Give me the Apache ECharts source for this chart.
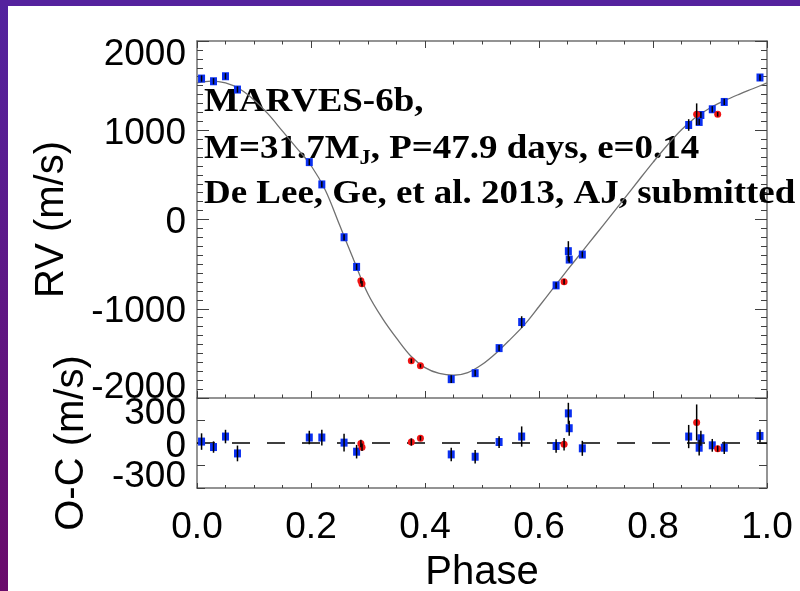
<!DOCTYPE html>
<html>
<head>
<meta charset="utf-8">
<script src="https://cdn.jsdelivr.net/npm/echarts@6/dist/echarts.min.js"></script>
<style>
  html, body { margin: 0; padding: 0; background: #ffffff; }
  #chart { width: 800px; height: 591px; }
</style>
</head>
<body>
<div id="chart"></div>
<script>
// ---- Radial velocity data, folded on the orbital period ----
// Blue squares
const bluePhase = [0.008, 0.029, 0.050, 0.071, 0.197, 0.219, 0.258, 0.280, 0.446, 0.488, 0.530, 0.5696, 0.630, 0.6515, 0.653, 0.676, 0.8626, 0.881, 0.884, 0.904, 0.925, 0.9877];
const blueRV    = [1579, 1549, 1605, 1456, 643, 393, -199, -531, -1789, -1722, -1441, -1149, -738, -355, -449, -393, 1059, 1093, 1171, 1235, 1317, 1591];
const blueRVErr = [35, 35, 35, 35, 35, 35, 35, 35, 43, 35, 35, 65, 35, 112, 35, 35, 65, 35, 35, 35, 35, 35];
const blueOC    = [19, -54, 86, -139, 73, 73, 5, -116, -152, -183, 13, 86, -40, 395, 197, -71, 86, -63, 63, -31, -63, 94];
const blueOCErr = [110, 76, 90, 105, 90, 105, 119, 90, 90, 90, 78, 135, 90, 141, 100, 100, 155, 105, 100, 85, 83, 85];

// Red circles
const redPhase = [0.2875, 0.2895, 0.376, 0.392, 0.644, 0.8766, 0.9135];
const redRV    = [-686, -720, -1584, -1640, -697, 1179, 1179];
const redRVErr = [30, 30, 25, 20, 30, 122, 25];
const redOC    = [-5, -55, 13, 63, -17, 274, -76];
const redOCErr = [50, 50, 49, 30, 83, 240, 40];

// Orbit fit curve
const modelPhase = [0.000, 0.025, 0.050, 0.075, 0.100, 0.125, 0.150, 0.175, 0.200, 0.225,
                    0.250, 0.275, 0.300, 0.325, 0.350, 0.375, 0.400, 0.425, 0.450, 0.475,
                    0.500, 0.525, 0.550, 0.575, 0.600, 0.625, 0.650, 0.675, 0.700, 0.725,
                    0.750, 0.775, 0.800, 0.825, 0.850, 0.875, 0.900, 0.925, 0.950, 0.975, 1.000];
const modelRV    = [1530, 1550, 1530, 1462, 1340, 1180, 990, 800, 605, 330,
                    -60, -455, -835, -1105, -1330, -1530, -1660, -1725, -1745, -1715,
                    -1625, -1495, -1340, -1175, -975, -770, -565, -365, -165, 35,
                    237, 440, 640, 832, 1005, 1145, 1250, 1330, 1400, 1465, 1530];

// Zero reference for the residual panel
const zeroPhase = [0, 1];
const zeroOC = [0, 0];

// Tick labels
const phaseTicks = [0.0, 0.2, 0.4, 0.6, 0.8, 1.0];
const rvTicks = [-2000, -1000, 0, 1000, 2000];
const ocTicks = [-300, 0, 300];

// Annotation lines
const titleLine = 'MARVES-6b,';
const paramLead = 'M=31.7M';
const paramSub = 'J';
const paramTail = ', P=47.9 days, e=0.14';
const refLine = 'De Lee, Ge, et al. 2013, AJ, submitted';

const SANS = '"Liberation Sans", Arial, sans-serif';
const SERIF_BOLD = 'bold 33px "Liberation Serif", "Times New Roman", serif';
const AXIS_GRAY = '#707070';
const TICK_GRAY = '#404040';
const BLUE = '#0a2ff0';
const RED = '#f01414';

const chart = echarts.init(document.getElementById('chart'), null, { renderer: 'canvas' });

const labelFont = { fontFamily: SANS, fontSize: 37, color: '#000' };

function frameAxis(extra) {
  return Object.assign({
    type: 'value',
    axisLine: { show: true, onZero: false, lineStyle: { color: AXIS_GRAY, width: 1.5 } },
    splitLine: { show: false },
    nameMoveOverlap: false
  }, extra);
}

function phaseAxis(gridIndex, position, showLabels, tickLen, minorLen) {
  return frameAxis({
    gridIndex, position,
    min: 0, max: 1, interval: 0.2,
    axisTick: { show: true, inside: true, length: tickLen, lineStyle: { color: TICK_GRAY, width: 1 } },
    minorTick: { show: true, splitNumber: 4, length: minorLen, lineStyle: { color: TICK_GRAY, width: 1 } },
    axisLabel: showLabels ? Object.assign({
      show: true, margin: 21,
      formatter: v => phaseTicks.some(t => Math.abs(t - v) < 1e-6) ? v.toFixed(1) : ''
    }, labelFont) : { show: false }
  });
}

// Padding nudges the end labels inward, away from the panel corners
const rvLabelRich = {
  n:  Object.assign({ padding: [7, 0, 0, 0] }, labelFont),
  dn: Object.assign({ padding: [27, 0, 0, 0] }, labelFont),
  up: Object.assign({ padding: [7, 0, 28, 0] }, labelFont)
};
const ocLabelRich = {
  n:  Object.assign({ padding: [7, 0, 0, 0] }, labelFont),
  dn: Object.assign({ padding: [23, 0, 0, 0] }, labelFont),
  up: Object.assign({ padding: [7, 0, 20, 0] }, labelFont)
};

function errorBars(xIdx, yIdx, phases, vals, errs) {
  return {
    type: 'custom', xAxisIndex: xIdx, yAxisIndex: yIdx, z: 6,
    silent: true, animation: false,
    data: phases.map((p, i) => [p, vals[i] - errs[i], vals[i] + errs[i]]),
    encode: { x: 0, y: [1, 2] },
    renderItem: (params, api) => {
      const lo = api.coord([api.value(0), api.value(1)]);
      const hi = api.coord([api.value(0), api.value(2)]);
      return {
        type: 'line',
        shape: { x1: lo[0], y1: lo[1], x2: hi[0], y2: hi[1] },
        style: { stroke: '#000', lineWidth: 1.5 }
      };
    }
  };
}

function markers(xIdx, yIdx, phases, vals, symbol, size, color) {
  return {
    type: 'scatter', xAxisIndex: xIdx, yAxisIndex: yIdx, z: 5,
    symbol, symbolSize: size, silent: true, animation: false,
    itemStyle: { color, opacity: 1 },
    data: phases.map((p, i) => [p, vals[i]])
  };
}

const option = {
  backgroundColor: '#ffffff',
  animation: false,
  grid: [
    { left: 197, top: 41, width: 570, height: 357, containLabel: false, outerBoundsMode: 'none' },
    { left: 197, top: 398, width: 570, height: 90, containLabel: false, outerBoundsMode: 'none' }
  ],
  xAxis: [
    phaseAxis(0, 'bottom', false, 7, 3.5),
    phaseAxis(0, 'top', false, 7, 3.5),
    Object.assign(phaseAxis(1, 'bottom', true, 5, 3), {
      name: 'Phase', nameLocation: 'middle', nameGap: 65,
      nameTextStyle: { fontFamily: SANS, fontSize: 40, color: '#000' }
    })
  ],
  yAxis: [
    frameAxis({
      gridIndex: 0, position: 'left', min: -2000, max: 2000, interval: 1000,
      name: 'RV (m/s)', nameLocation: 'middle', nameGap: 125,
      nameTextStyle: { fontFamily: SANS, fontSize: 40, color: '#000' },
      axisTick: { show: true, inside: true, length: 12, lineStyle: { color: TICK_GRAY, width: 1 } },
      minorTick: { show: true, splitNumber: 10, length: 6, lineStyle: { color: TICK_GRAY, width: 1 } },
      axisLabel: Object.assign({
        show: true, margin: 11, showMinLabel: true, showMaxLabel: true,
        formatter: v => {
          if (!rvTicks.includes(v)) return '';
          if (v === rvTicks[rvTicks.length - 1]) return '{dn|' + v + '}';
          if (v === rvTicks[0]) return '{up|' + v + '}';
          return '{n|' + v + '}';
        },
        rich: rvLabelRich
      }, labelFont)
    }),
    frameAxis({
      gridIndex: 0, position: 'right', min: -2000, max: 2000, interval: 1000,
      axisTick: { show: true, inside: true, length: 12, lineStyle: { color: TICK_GRAY, width: 1 } },
      minorTick: { show: true, splitNumber: 10, length: 6, lineStyle: { color: TICK_GRAY, width: 1 } },
      axisLabel: { show: false }
    }),
    frameAxis({
      gridIndex: 1, position: 'left', min: -600, max: 600, interval: 300,
      name: 'O-C (m/s)', nameLocation: 'middle', nameGap: 105,
      nameTextStyle: { fontFamily: SANS, fontSize: 40, color: '#000' },
      axisTick: { show: true, inside: true, length: 8, lineStyle: { color: TICK_GRAY, width: 1 } },
      axisLabel: Object.assign({
        show: true, margin: 11, showMinLabel: true, showMaxLabel: true,
        formatter: v => {
          if (!ocTicks.includes(v)) return '';
          if (v === ocTicks[ocTicks.length - 1]) return '{up|' + v + '}';
          if (v === ocTicks[0]) return '{dn|' + v + '}';
          return '{n|' + v + '}';
        },
        rich: ocLabelRich
      }, labelFont)
    }),
    frameAxis({
      gridIndex: 1, position: 'right', min: -600, max: 600, interval: 300,
      axisTick: { show: true, inside: true, length: 8, lineStyle: { color: TICK_GRAY, width: 1 } },
      axisLabel: { show: false }
    })
  ],
  graphic: [
    {
      type: 'rect', z: 0, silent: true,
      shape: { x: 0, y: 0, width: 8, height: 591 },
      style: {
        fill: new echarts.graphic.LinearGradient(0, 0, 0, 1, [
          { offset: 0, color: '#53239f' },
          { offset: 1, color: '#6a0b6b' }
        ])
      }
    },
    {
      type: 'rect', z: 0, silent: true,
      shape: { x: 0, y: 0, width: 800, height: 6 },
      style: { fill: '#55229e' }
    },
    {
      type: 'text', z: 1, silent: true, x: 204, y: 102, scaleX: 1.12,
      style: { text: titleLine, font: SERIF_BOLD, fill: '#000', verticalAlign: 'middle' }
    },
    {
      type: 'text', z: 1, silent: true, x: 204, y: 149, scaleX: 1.12,
      style: {
        text: '{a|' + paramLead + '}{j|' + paramSub + '}{a|' + paramTail + '}',
        fill: '#000', verticalAlign: 'middle',
        rich: {
          a: { font: SERIF_BOLD, fill: '#000', lineHeight: 40 },
          j: { font: 'bold 20px "Liberation Serif", "Times New Roman", serif', fill: '#000', lineHeight: 25, verticalAlign: 'bottom' }
        }
      }
    },
    {
      type: 'text', z: 1, silent: true, x: 204, y: 194, scaleX: 1.12,
      style: { text: refLine, font: SERIF_BOLD, fill: '#000', verticalAlign: 'middle' }
    }
  ],
  series: [
    {
      type: 'line', xAxisIndex: 0, yAxisIndex: 0, z: 3,
      data: modelPhase.map((p, i) => [p, modelRV[i]]),
      smooth: 0.35, showSymbol: false, silent: true,
      lineStyle: { color: '#707070', width: 1.3 }
    },
    markers(0, 0, bluePhase, blueRV, 'rect', [7, 8], BLUE),
    markers(0, 0, redPhase, redRV, 'circle', 7, RED),
    errorBars(0, 0, bluePhase, blueRV, blueRVErr),
    errorBars(0, 0, redPhase, redRV, redRVErr),
    {
      type: 'line', xAxisIndex: 2, yAxisIndex: 2, z: 3,
      data: zeroPhase.map((p, i) => [p, zeroOC[i]]),
      showSymbol: false, silent: true,
      lineStyle: { color: '#000', width: 1.5, type: [18, 17] }
    },
    markers(2, 2, bluePhase, blueOC, 'rect', [7, 8], BLUE),
    markers(2, 2, redPhase, redOC, 'circle', 7, RED),
    errorBars(2, 2, bluePhase, blueOC, blueOCErr),
    errorBars(2, 2, redPhase, redOC, redOCErr)
  ]
};

chart.setOption(option);
</script>
</body>
</html>
